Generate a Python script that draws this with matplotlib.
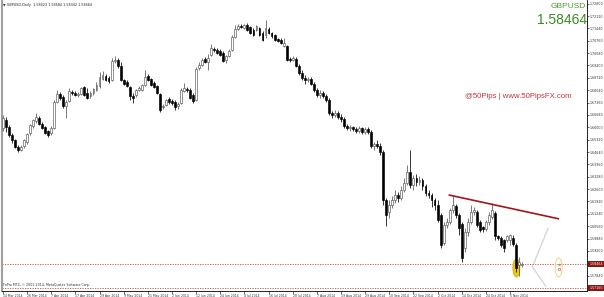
import matplotlib
matplotlib.use("Agg")
import matplotlib.pyplot as plt
import pandas as pd
from matplotlib.patches import Rectangle, Ellipse
from matplotlib.transforms import blended_transform_factory

# ============================================================
# Data: GBPUSD daily candles
# ============================================================

first_day = "2014-03-14"

opens = [
    1.6596, 1.6640, 1.6602, 1.6558, 1.6530, 1.6492, 1.6475, 1.6497, 1.6519, 1.6569,
    1.6607, 1.6635, 1.6651, 1.6618, 1.6602, 1.6580, 1.6569, 1.6596, 1.6739, 1.6783,
    1.6767, 1.6717, 1.6745, 1.6794, 1.6789, 1.6778, 1.6783, 1.6822, 1.6789, 1.6772,
    1.6789, 1.6805, 1.6827, 1.6866, 1.6882, 1.6871, 1.6860, 1.6965, 1.6970, 1.6937,
    1.6860, 1.6849, 1.6822, 1.6772, 1.6778, 1.6805, 1.6805, 1.6833, 1.6882, 1.6866,
    1.6844, 1.6827, 1.6783, 1.6712, 1.6723, 1.6756, 1.6745, 1.6739, 1.6717, 1.6734,
    1.6800, 1.6811, 1.6805, 1.6778, 1.6750, 1.6926, 1.6943, 1.6976, 1.6959, 1.6998,
    1.7031, 1.7025, 1.7020, 1.7009, 1.6970, 1.6992, 1.7025, 1.7097, 1.7141, 1.7157,
    1.7146, 1.7163, 1.7152, 1.7135, 1.7135, 1.7146, 1.7119, 1.7108, 1.7141, 1.7119,
    1.7108, 1.7086, 1.7080, 1.7047, 1.7047, 1.6976, 1.6970, 1.6976, 1.6937, 1.6899,
    1.6871, 1.6860, 1.6866, 1.6838, 1.6805, 1.6778, 1.6789, 1.6772, 1.6750, 1.6679,
    1.6668, 1.6679, 1.6657, 1.6646, 1.6607, 1.6596, 1.6602, 1.6591, 1.6580, 1.6596,
    1.6574, 1.6591, 1.6574, 1.6497, 1.6508, 1.6497, 1.6464, 1.6200, 1.6134, 1.6173,
    1.6200, 1.6228, 1.6211, 1.6255, 1.6294, 1.6354, 1.6283, 1.6321, 1.6299, 1.6310,
    1.6277, 1.6239, 1.6228, 1.6200, 1.6173, 1.6118, 1.5964, 1.6063, 1.6079, 1.6145,
    1.6167, 1.6118, 1.6068, 1.5936, 1.6024, 1.6079, 1.6134, 1.6134, 1.6079, 1.6052,
    1.6041, 1.6079, 1.6107, 1.6129, 1.6002, 1.5991, 1.5980, 1.5980, 1.5980, 1.5991,
    1.5953, 1.5843, 1.58423,
]
highs = [
    1.6668, 1.6657, 1.6613, 1.6569, 1.6536, 1.6503, 1.6503, 1.6536, 1.6569, 1.6618,
    1.6646, 1.6679, 1.6662, 1.6629, 1.6607, 1.6585, 1.6607, 1.6750, 1.6805, 1.6794,
    1.6778, 1.6750, 1.6816, 1.6805, 1.6800, 1.6794, 1.6822, 1.6827, 1.6816, 1.6800,
    1.6816, 1.6849, 1.6904, 1.6910, 1.6893, 1.6882, 1.6981, 1.6992, 1.6981, 1.6959,
    1.6866, 1.6860, 1.6827, 1.6789, 1.6811, 1.6827, 1.6838, 1.6915, 1.6893, 1.6871,
    1.6855, 1.6833, 1.6789, 1.6728, 1.6756, 1.6767, 1.6756, 1.6750, 1.6739, 1.6816,
    1.6844, 1.6822, 1.6816, 1.6789, 1.6932, 1.6959, 1.6981, 1.6987, 1.7003, 1.7058,
    1.7042, 1.7036, 1.7031, 1.7020, 1.6998, 1.7031, 1.7108, 1.7163, 1.7168, 1.7168,
    1.7168, 1.7174, 1.7157, 1.7146, 1.7163, 1.7152, 1.7130, 1.7190, 1.7152, 1.7124,
    1.7113, 1.7091, 1.7091, 1.7091, 1.7053, 1.6987, 1.6992, 1.6987, 1.6948, 1.6915,
    1.6888, 1.6877, 1.6877, 1.6849, 1.6816, 1.6805, 1.6800, 1.6783, 1.6761, 1.6690,
    1.6695, 1.6690, 1.6673, 1.6657, 1.6618, 1.6613, 1.6607, 1.6602, 1.6607, 1.6602,
    1.6602, 1.6602, 1.6585, 1.6519, 1.6530, 1.6514, 1.6475, 1.6211, 1.6200, 1.6222,
    1.6255, 1.6244, 1.6277, 1.6321, 1.6393, 1.6475, 1.6338, 1.6343, 1.6332, 1.6321,
    1.6288, 1.6255, 1.6239, 1.6211, 1.6200, 1.6129, 1.6079, 1.6101, 1.6156, 1.6228,
    1.6178, 1.6129, 1.6079, 1.6046, 1.6101, 1.6173, 1.6162, 1.6145, 1.6090, 1.6057,
    1.6090, 1.6134, 1.6184, 1.6140, 1.6008, 1.6002, 1.5986, 1.6008, 1.6013, 1.6008,
    1.5964, 1.5887, 1.58584,
]
lows = [
    1.6580, 1.6574, 1.6547, 1.6514, 1.6486, 1.6464, 1.6470, 1.6486, 1.6508, 1.6558,
    1.6596, 1.6624, 1.6613, 1.6591, 1.6563, 1.6547, 1.6558, 1.6591, 1.6734, 1.6750,
    1.6706, 1.6651, 1.6739, 1.6778, 1.6772, 1.6767, 1.6778, 1.6772, 1.6756, 1.6761,
    1.6778, 1.6800, 1.6816, 1.6860, 1.6855, 1.6844, 1.6855, 1.6954, 1.6926, 1.6855,
    1.6833, 1.6822, 1.6750, 1.6734, 1.6767, 1.6800, 1.6800, 1.6827, 1.6855, 1.6827,
    1.6816, 1.6783, 1.6684, 1.6701, 1.6717, 1.6728, 1.6723, 1.6695, 1.6701, 1.6728,
    1.6794, 1.6794, 1.6756, 1.6734, 1.6745, 1.6915, 1.6937, 1.6954, 1.6915, 1.6992,
    1.7014, 1.7003, 1.6992, 1.6959, 1.6954, 1.6987, 1.7020, 1.7091, 1.7135, 1.7146,
    1.7141, 1.7130, 1.7113, 1.7102, 1.7130, 1.7102, 1.7075, 1.7091, 1.7113, 1.7091,
    1.7075, 1.7069, 1.7058, 1.7042, 1.6965, 1.6959, 1.6965, 1.6932, 1.6888, 1.6860,
    1.6838, 1.6849, 1.6833, 1.6794, 1.6767, 1.6761, 1.6761, 1.6739, 1.6668, 1.6651,
    1.6657, 1.6646, 1.6629, 1.6596, 1.6585, 1.6580, 1.6580, 1.6569, 1.6569, 1.6563,
    1.6563, 1.6563, 1.6486, 1.6475, 1.6486, 1.6448, 1.6173, 1.6057, 1.6101, 1.6156,
    1.6184, 1.6189, 1.6200, 1.6244, 1.6283, 1.6266, 1.6255, 1.6277, 1.6283, 1.6255,
    1.6222, 1.6211, 1.6162, 1.6145, 1.6079, 1.5936, 1.5953, 1.6046, 1.6068, 1.6129,
    1.6101, 1.6008, 1.5859, 1.5914, 1.6002, 1.6068, 1.6118, 1.6052, 1.6024, 1.6024,
    1.6030, 1.6063, 1.6096, 1.5980, 1.5980, 1.5942, 1.5914, 1.5969, 1.5953, 1.5947,
    1.5804, 1.5782, 1.58342,
]
closes = [
    1.6651, 1.6602, 1.6558, 1.6530, 1.6492, 1.6475, 1.6492, 1.6530, 1.6563, 1.6613,
    1.6640, 1.6657, 1.6618, 1.6596, 1.6569, 1.6558, 1.6596, 1.6739, 1.6783, 1.6761,
    1.6717, 1.6739, 1.6800, 1.6789, 1.6778, 1.6783, 1.6816, 1.6778, 1.6761, 1.6789,
    1.6811, 1.6833, 1.6877, 1.6888, 1.6860, 1.6855, 1.6965, 1.6970, 1.6937, 1.6860,
    1.6838, 1.6827, 1.6772, 1.6761, 1.6805, 1.6816, 1.6833, 1.6877, 1.6860, 1.6833,
    1.6822, 1.6789, 1.6695, 1.6717, 1.6750, 1.6739, 1.6734, 1.6712, 1.6728, 1.6805,
    1.6816, 1.6805, 1.6761, 1.6745, 1.6921, 1.6943, 1.6970, 1.6959, 1.6981, 1.7036,
    1.7025, 1.7009, 1.6998, 1.6965, 1.6992, 1.7020, 1.7097, 1.7141, 1.7157, 1.7152,
    1.7163, 1.7135, 1.7119, 1.7108, 1.7157, 1.7108, 1.7080, 1.7146, 1.7119, 1.7102,
    1.7080, 1.7075, 1.7064, 1.7064, 1.6970, 1.6970, 1.6981, 1.6937, 1.6899, 1.6871,
    1.6860, 1.6866, 1.6838, 1.6805, 1.6778, 1.6789, 1.6772, 1.6750, 1.6679, 1.6668,
    1.6679, 1.6657, 1.6646, 1.6607, 1.6596, 1.6602, 1.6591, 1.6580, 1.6596, 1.6574,
    1.6591, 1.6574, 1.6497, 1.6508, 1.6497, 1.6464, 1.6200, 1.6118, 1.6173, 1.6200,
    1.6228, 1.6211, 1.6255, 1.6294, 1.6354, 1.6283, 1.6321, 1.6299, 1.6310, 1.6277,
    1.6239, 1.6228, 1.6200, 1.6173, 1.6090, 1.5953, 1.6063, 1.6079, 1.6145, 1.6173,
    1.6118, 1.6046, 1.5881, 1.6024, 1.6079, 1.6134, 1.6145, 1.6063, 1.6035, 1.6041,
    1.6079, 1.6118, 1.6145, 1.6002, 1.5991, 1.5953, 1.5936, 1.6002, 1.6008, 1.5958,
    1.5826, 1.5859, 1.58464,
]

date_labels = [
    "14 Mar 2014", "26 Mar 2014", "7 Apr 2014", "17 Apr 2014", "29 Apr 2014",
    "9 May 2014", "21 May 2014", "2 Jun 2014", "12 Jun 2014", "24 Jun 2014",
    "4 Jul 2014", "16 Jul 2014", "28 Jul 2014", "7 Aug 2014", "19 Aug 2014",
    "29 Aug 2014", "10 Sep 2014", "22 Sep 2014", "2 Oct 2014", "14 Oct 2014",
    "24 Oct 2014", "5 Nov 2014",
]

# scale labels (the one hidden behind the bid tag is left out)
price_ticks = [
    1.57840, 1.59200, 1.59880, 1.60560, 1.61240, 1.61920, 1.62600,
    1.63280, 1.63960, 1.64640, 1.65320, 1.66000, 1.66680, 1.67360, 1.68040,
    1.68720, 1.69400, 1.70080, 1.70760, 1.71440, 1.72120, 1.72800,
]

bid_price = 1.58464
low_line_price = 1.57160

# trend line drawn on the chart (bar index, price)
trend_bars = [147.9, 184.0]
trend_prices = [1.6227, 1.6097]

# gray chevron object (bar index, price)
chevron_bars = [180.6, 175.4, 179.8]
chevron_prices = [1.6044, 1.5833, 1.5727]


# ============================================================
# Figure
# ============================================================

W, H = 604, 297

fig = plt.figure(figsize=(W / 100, H / 100), dpi=100)
fig.patch.set_facecolor("white")

# plot area: x 2..587 px, y 0..291 px
ax = fig.add_axes([2 / W, 6 / H, 585 / W, 291 / H])
ax.set_facecolor("white")

dates = pd.bdate_range(first_day, periods=len(closes))
n = len(closes)

# ---- candles
body_w = 0.62
for i in range(n):
    o, h, l, c = opens[i], highs[i], lows[i], closes[i]
    bull = c >= o
    edge = "#555555" if bull else "black"
    ax.vlines(i, l, h, color=edge, linewidth=0.55, zorder=3)
    bottom = min(o, c)
    height = max(abs(c - o), 0.00012)
    ax.add_patch(Rectangle((i - body_w / 2, bottom), body_w, height,
                           facecolor="white" if bull else "black",
                           edgecolor=edge, linewidth=0.45, zorder=4))

# ---- highlight ellipses
ax.add_patch(Ellipse((170.1, 1.5826), 2.3, 0.0099,
                     facecolor="#f2cc00", edgecolor="#e0a800",
                     linewidth=0.6, zorder=2))
ax.add_patch(Ellipse((184.1, 1.5829), 2.3, 0.0104,
                     facecolor="none", edgecolor="#f3d27a",
                     linewidth=0.7, zorder=2))
ax.plot([184.1], [1.5848], marker="^", markersize=1.6, color="#5aa05a",
        markeredgewidth=0, zorder=3)
ax.plot([184.1], [1.5818], marker="o", markersize=1.8, markerfacecolor="none",
        markeredgecolor="#e06060", markeredgewidth=0.5, zorder=3)

# ---- trend line and chevron
ax.plot(trend_bars, trend_prices, color="#a3161c", linewidth=1.2, zorder=5)
ax.plot(chevron_bars, chevron_prices, color="#d6d6d6", linewidth=1.0, zorder=1)

# ---- horizontal dashed lines
for p in (bid_price, low_line_price):
    ax.axhline(p, color="#c84848", linewidth=0.6, linestyle=(0, (1.5, 1.5)),
               zorder=1)

# ---- axes ranges
ax.set_xlim(-0.3, 193.5)
ax.set_ylim(1.56995, 1.7300)

# ---- price axis on the right
ax.yaxis.tick_right()
ax.set_yticks(price_ticks)
ax.set_yticklabels([f"{p:.5f}" for p in price_ticks])
ax.tick_params(axis="y", direction="out", length=1.2, width=0.5, pad=0.8,
               labelsize=2.3, colors="#333333")

# ---- date axis
tick_pos = [dates.get_loc(pd.Timestamp(d)) for d in
            pd.to_datetime(date_labels, format="%d %b %Y")]
ax.set_xticks(tick_pos)
ax.set_xticklabels(date_labels)
ax.tick_params(axis="x", direction="out", length=2, width=0.5, pad=0.3,
               labelsize=2.25, colors="#333333")
for lbl in ax.get_xticklabels():
    lbl.set_horizontalalignment("left")

ax.spines["top"].set_visible(False)
ax.spines["left"].set_color("#a0a0a0")
ax.spines["left"].set_linewidth(1.5)
ax.spines["right"].set_linewidth(0.6)
ax.spines["bottom"].set_linewidth(0.6)

# ---- red price tags on the scale
tag = blended_transform_factory(ax.transAxes, ax.transData)
for p in (bid_price, low_line_price):
    ax.text(1.004, p, f"{p:.5f}", transform=tag, ha="left", va="center",
            fontsize=2.3, color="white", clip_on=False, zorder=10,
            bbox=dict(boxstyle="square,pad=0.3", facecolor="#8e1414",
                      edgecolor="none"))

# ---- texts
fig.text(3 / W, 1 - 5 / H,
         "\u25bc GBPUSD,Daily  1.58423 1.58584 1.58342 1.58464",
         fontsize=2.4, color="#222222", va="center", ha="left")
fig.text(586 / W, 1 - 6 / H, "GBPUSD", fontsize=6, color="#4c9a34",
         ha="right", va="center", family="Liberation Sans")
fig.text(587 / W, 1 - 19.5 / H, "1.58464", fontsize=10, color="#3c8a24",
         ha="right", va="center", family="Liberation Sans")
fig.text(572 / W, 1 - 96 / H, "@50Pips | www.50PipsFX.com", fontsize=5.6,
         color="#c4333b", ha="right", va="center", family="Liberation Sans")
fig.text(3 / W, 1 - 285 / H,
         "FxPro MT4, \u00a9 2001-2014, MetaQuotes Software Corp.",
         fontsize=2.3, color="#333333", va="center", ha="left")

fig.savefig("out.png", dpi=100, facecolor="white")
